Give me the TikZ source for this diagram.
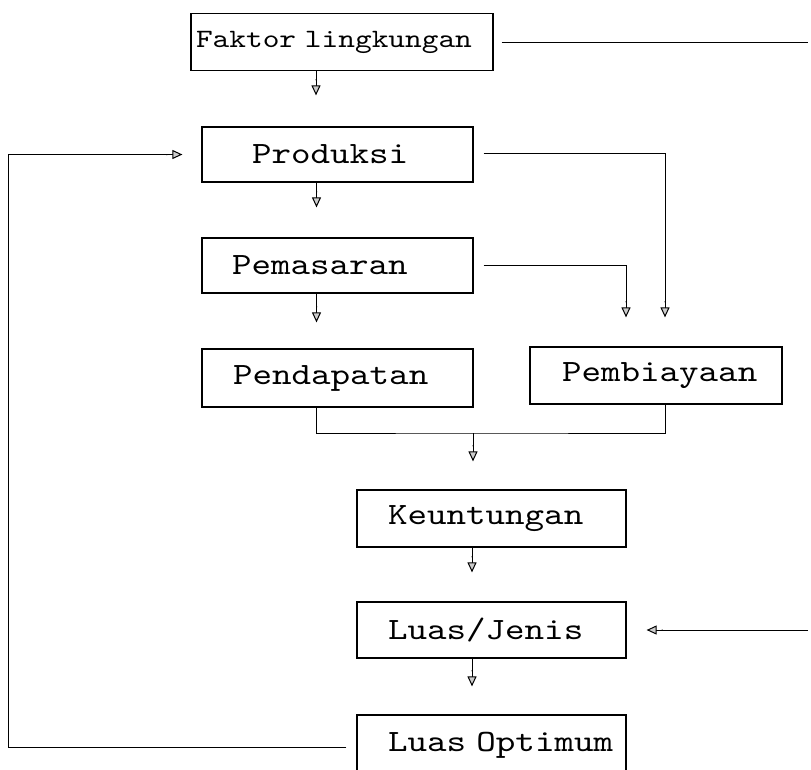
\documentclass[tikz,border=0pt]{standalone}
\usepackage{fontspec}
\newfontfamily\monofnt[FakeStretch=1.2]{lmmono10-regular.otf}
\usetikzlibrary{arrows.meta}
\tikzset{
  box/.style={draw, line width=1.2pt, minimum height=57pt, inner xsep=0pt, inner ysep=0pt,
    align=left, font=\monofnt\fontsize{31}{36}\selectfont},
  ln/.style={line width=1pt},
  arr/.style={line width=1pt, -{Butt Cap[sep=5pt] Triangle[length=10pt, width=9pt, fill=gray!40, sep=5pt]}},
}
\begin{document}
\begin{tikzpicture}[x=1pt, y=-1pt]
\useasboundingbox (0,0) rectangle (811,769);
\clip (0,0) rectangle (811,769);
% boxes
\node[box, text width=302pt, font=\monofnt\fontsize{26.5}{30}\selectfont] (fak) at (342,42) {\hspace*{5pt}Faktor lingkungan};
\node[box, text width=271pt, minimum height=55pt] (pro) at (337.5,154.5) {\hspace*{50pt}Produksi};
\node[box, text width=271pt, minimum height=55pt] (pem) at (337.5,265.5) {\hspace*{30pt}Pemasaran};
\node[box, text width=271pt, minimum height=58pt] (pen) at (337.5,378) {\hspace*{31pt}Pendapatan};
\node[box, text width=252pt] (bia) at (656,375.5) {\hspace*{32pt}Pembiayaan};
\node[box, text width=269pt] (keu) at (491.5,518.5) {\hspace*{31pt}Keuntungan};
\node[box, text width=269pt, minimum height=56pt] (lj) at (491.5,630) {\hspace*{31pt}Luas/Jenis};
\node[box, text width=269pt, minimum height=60pt] (lo) at (491.5,745) {\hspace*{31pt}Luas Optimum};
% free ends
\coordinate (fakend) at (808,42);
\coordinate (ljend) at (808,630);
\coordinate (jn) at (473,433);
% connectors
\draw[ln] ([xshift=8pt]fak.east) -- (fakend);
\draw[arr, shorten >=26pt] ([xshift=-26pt]fak.south) -- ([xshift=-26pt]fak.south |- pro.north);
\draw[arr, shorten >=14pt] ([xshift=-10pt,yshift=-2pt]lo.west) -- ++(-338,0) |- (pro.west);
\draw[arr, shorten >=25pt] ([xshift=-21pt]pro.south) -- ([xshift=-21pt]pro.south |- pem.north);
\draw[arr, shorten >=21pt] ([xshift=-21pt]pem.south) -- ([xshift=-21pt]pem.south |- pen.north);
\draw[arr, shorten >=24pt] ([xshift=10pt,yshift=1pt]pro.east) -| ([xshift=9pt]bia.north);
\draw[arr, shorten >=24pt] ([xshift=10pt]pem.east) -| ([xshift=-30pt]bia.north);
\draw[ln] ([xshift=-21pt]pen.south) |- (jn) -| ([xshift=9pt]bia.south);
\draw[arr, shorten >=23pt] (jn) -- (jn |- keu.north);
\draw[arr, shorten >=24pt] ([xshift=-19.5pt]keu.south) -- ([xshift=-19.5pt]keu.south |- lj.north);
\draw[arr, shorten >=23pt] ([xshift=-19.5pt]lj.south) -- ([xshift=-19.5pt]lj.south |- lo.north);
\draw[arr, shorten >=15pt] (ljend) -- (lj.east);
\end{tikzpicture}
\end{document}
